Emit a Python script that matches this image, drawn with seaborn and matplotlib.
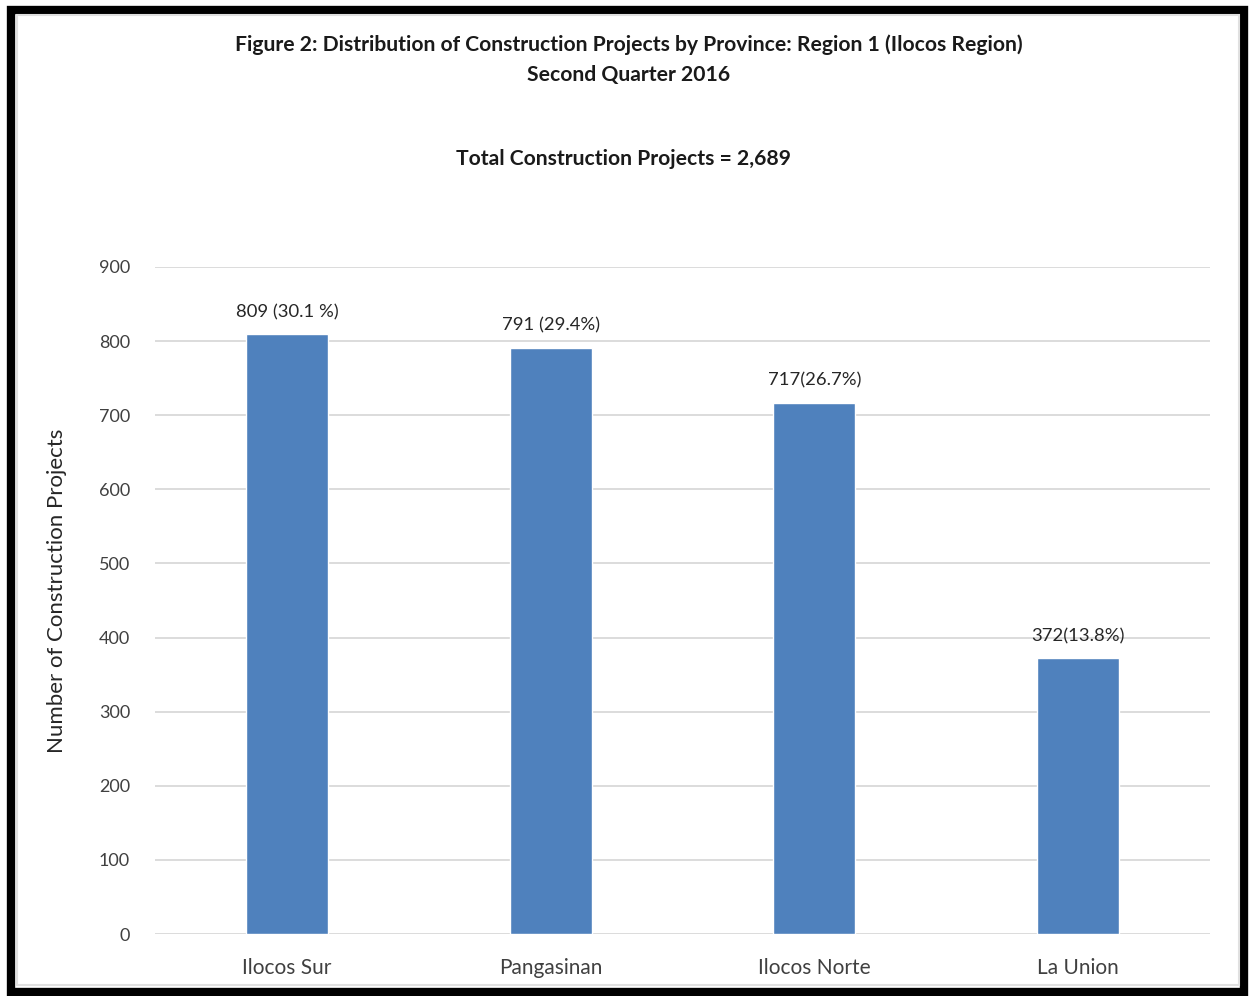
import matplotlib
matplotlib.use("Agg")
import matplotlib.pyplot as plt
from matplotlib.patches import Rectangle
import seaborn as sns
import pandas as pd

provinces = ["Ilocos Sur", "Pangasinan", "Ilocos Norte", "La Union"]
projects = [809, 791, 717, 372]
value_labels = ["809 (30.1 %)", "791 (29.4%)", "717(26.7%)", "372(13.8%)"]
y_ticks = [0, 100, 200, 300, 400, 500, 600, 700, 800, 900]

sns.set_theme(style="white")
plt.rcParams["font.family"] = ["Lato", "DejaVu Sans"]

df = pd.DataFrame({"Province": provinces, "Projects": projects})

fig = plt.figure(figsize=(12.5, 9.96), dpi=100)
ax = fig.add_axes([0.124, 0.0622, 0.844, 0.6698])

sns.barplot(data=df, x="Province", y="Projects", color="#4F81BD",
            saturation=1, width=0.31, ax=ax, zorder=3)

ax.set_ylim(0, 900)
ax.set_yticks(y_ticks)
ax.set_yticklabels([str(t) for t in y_ticks])
ax.set_xlim(-0.5, len(provinces) - 0.5)
ax.grid(axis="y", color="#D9D9D9", linewidth=1.3, zorder=0)
ax.grid(axis="x", visible=False)
for s in ax.spines.values():
    s.set_visible(False)
ax.tick_params(axis="y", length=0, labelsize=13, colors="#404040", pad=18)
ax.tick_params(axis="x", length=0, labelsize=15, colors="#404040", pad=17)
ax.set_xlabel("")
ax.set_ylabel("Number of Construction Projects", fontsize=16, color="#262626")
ax.yaxis.set_label_coords(-0.083, 0.515)

for i, (v, lab) in enumerate(zip(projects, value_labels)):
    ax.text(i, v + 19, lab, ha="center", va="bottom", fontsize=13.3, color="#262626")

fig.text(0.503, 0.955, "Figure 2: Distribution of Construction Projects by Province: Region 1 (Ilocos Region)",
         ha="center", va="center", fontsize=15.2, fontweight="bold", color="#1a1a1a")
fig.text(0.503, 0.925, "Second Quarter 2016",
         ha="center", va="center", fontsize=15.2, fontweight="bold", color="#1a1a1a")
fig.text(0.499, 0.840, "Total Construction Projects = 2,689",
         ha="center", va="center", fontsize=15.2, fontweight="bold", color="#1a1a1a")

# outer frame
fig.patches.append(Rectangle((0.0088, 0.0045), 0.9864, 0.9855, transform=fig.transFigure,
                             fill=False, edgecolor="black", linewidth=6))
fig.patches.append(Rectangle((0.0135, 0.0115), 0.978, 0.973, transform=fig.transFigure,
                             fill=False, edgecolor="#E0E0E0", linewidth=1.5))

fig.savefig("out.png", dpi=100, facecolor="white")
